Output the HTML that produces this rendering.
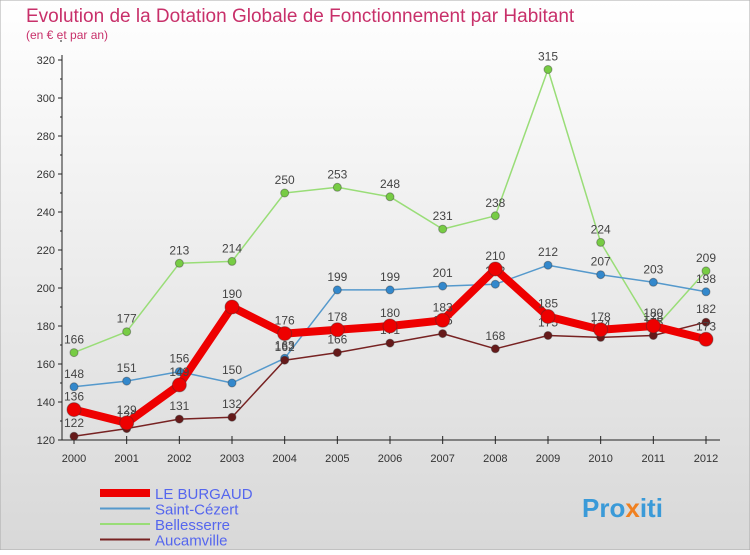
<!DOCTYPE html>
<html><head><meta charset="utf-8"><style>
body{margin:0;width:750px;height:550px;overflow:hidden;font-family:"Liberation Sans",sans-serif}
</style></head><body>
<svg id="c" width="750" height="550" xmlns="http://www.w3.org/2000/svg">
<defs><linearGradient id="bg" x1="0" y1="0" x2="0" y2="1"><stop offset="0" stop-color="#ffffff"/><stop offset="1" stop-color="#d8d8d8"/></linearGradient></defs>
<rect x="0" y="0" width="750" height="550" fill="url(#bg)" stroke="#aaa"/>
<text x="26" y="22" font-size="19" fill="#c8306a">Evolution de la Dotation Globale de Fonctionnement par Habitant</text>
<text x="26" y="39" font-size="12" fill="#c8306a">(en € et par an)</text>
<g id="axes"></g><g id="series"></g><g id="legend"></g>
<text x="582" y="517" font-size="26" font-weight="bold" fill="#3a9ad8">Pro<tspan fill="#f08020">x</tspan>iti</text>
</svg>
<script>
const years=[2000,2001,2002,2003,2004,2005,2006,2007,2008,2009,2010,2011,2012];
const burgaud=[136,129,149,190,176,178,180,183,210,185,178,180,173];
const cezert=[148,151,156,150,163,199,199,201,202,212,207,203,198];
const bellesserre=[166,177,213,214,250,253,248,231,238,315,224,178,209];
const aucamville=[122,126,131,132,162,166,171,176,168,175,174,175,182];
const yTicks=[120,140,160,180,200,220,240,260,280,300,320];
const NS="http://www.w3.org/2000/svg";
const X=i=>74+i*(706-74)/12, Y=v=>440-(v-120)*1.9;
function mk(t,a,p){const e=document.createElementNS(NS,t);for(const k in a)e.setAttribute(k,a[k]);(p||document.getElementById('series')).appendChild(e);return e;}
const ax=document.getElementById('axes');
let e=mk('line',{x1:62,y1:440,x2:62,y2:55,stroke:'#222'},ax);


e=mk('line',{x1:62,y1:440,x2:720,y2:440,stroke:'#222'},ax);


yTicks.forEach(v=>{mk('line',{x1:58,y1:Y(v),x2:62,y2:Y(v),stroke:'#222'},ax);
mk('line',{x1:60,y1:Y(v+10),x2:62,y2:Y(v+10),stroke:'#222'},ax);
const t=mk('text',{x:55,y:Y(v)+4,'font-size':11,'text-anchor':'end',fill:'#333'},ax);t.textContent=v;

});
years.forEach((y,i)=>{mk('line',{x1:X(i),y1:436,x2:X(i),y2:444,stroke:'#222'},ax);
const t=mk('text',{x:X(i),y:462,'font-size':11,'text-anchor':'middle',fill:'#333'},ax);t.textContent=y;

});
function series(d,col,w,r,name,dot){
const g=mk('g',{});
const p=mk('polyline',{points:d.map((v,i)=>X(i)+','+Y(v)).join(' '),fill:'none',stroke:col,'stroke-width':w,'stroke-linejoin':'round'},g);


d.forEach((v,i)=>{const c=mk('circle',{cx:X(i),cy:Y(v),r:r,fill:dot,stroke:'#333','stroke-opacity':0.4},g);


const t=mk('text',{x:X(i),y:Y(v)-9,'font-size':12,'text-anchor':'middle',fill:'#444'},g);t.textContent=v;

});}
series(bellesserre,'#99dd77',1.5,4,'bellesserre','#77cc44');
series(cezert,'#5599cc',1.5,4,'saint-cezert','#3388cc');
series(aucamville,'#772222',1.5,4,'aucamville','#661a1a');
series(burgaud,'#ee0000',8,7,'le-burgaud','#ee0000');
const lg=document.getElementById('legend');
[['LE BURGAUD','#ee0000',8],['Saint-Cézert','#5599cc',2],['Bellesserre','#99dd77',2],['Aucamville','#772222',2]].forEach((l,i)=>{
const y=493+i*15.5;
const ln=mk('line',{x1:100,y1:y,x2:150,y2:y,stroke:l[1],'stroke-width':l[2]},lg);


const t=mk('text',{x:155,y:y+6,'font-size':15,fill:'#5566ee'},lg);t.textContent=l[0];

});
</script>
</body></html>
